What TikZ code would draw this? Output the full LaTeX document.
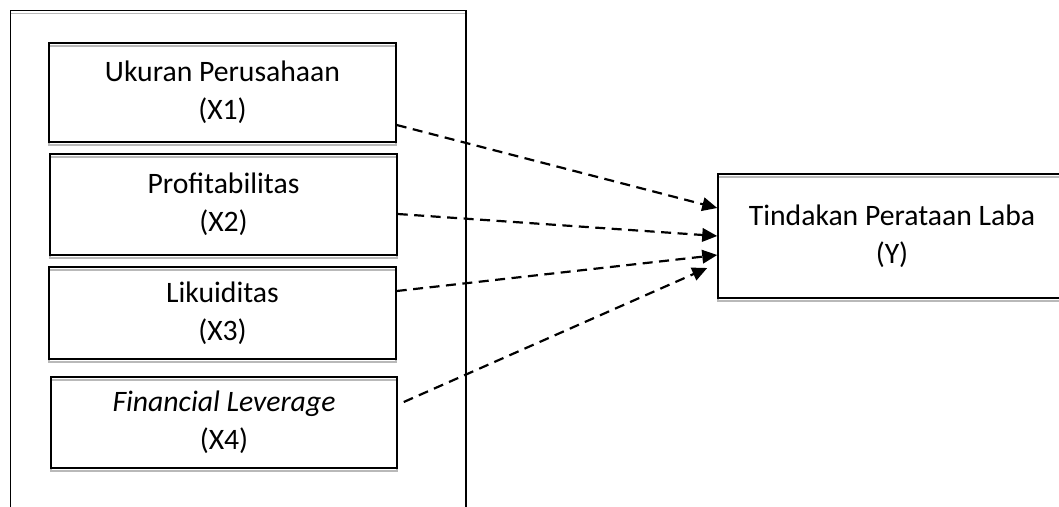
\documentclass[tikz,border=0pt]{standalone}
\usepackage{fontspec}
\setmainfont{Carlito}
\usepackage{tikz}
\usetikzlibrary{arrows.meta,calc,positioning,shadows}
\tikzset{
  varbox/.style   ={draw=black, line width=0.9pt, align=center,
                    font=\fontsize{16.9}{21.6}\selectfont,
                    execute at begin node={\rule{0pt}{17pt}},
                    drop shadow={shadow xshift=0pt, shadow yshift=-0.06cm,
                                 opacity=1, fill=none, draw=gray!55, line width=0.8pt}},
  dasharrow/.style={draw=black, line width=1.25pt, dash pattern=on 0.2cm off 0.13cm,
                    -{Triangle[length=0.3cm,width=0.27cm]}},
}
\begin{document}
\begin{tikzpicture}[
  x=0.02cm,y=-0.02cm,
  line cap=butt,
  line join=miter
]

% --- Canvas --------------------------------------------------------------
\clip (0,0) rectangle (1059,507);

% --- Frame round the independent variables -------------------------------
\draw[gray!55, line width=0.8pt] (10.5,13.7) rectangle (466,540);
\draw[line width=0.9pt] (10.5,10.7) rectangle (466,537);

% --- Independent variables -----------------------------------------------
\node[varbox, minimum width=6.94cm, minimum height=1.98cm] (b1) at (222.5,92.5)
  {Ukuran Perusahaan\\(X1)};
\node[varbox, minimum width=6.94cm, minimum height=2.02cm] (b2) at (223.5,204.5)
  {Profitabilitas\\(X2)};
\node[varbox, minimum width=6.94cm, minimum height=1.84cm] (b3) at (222.5,313)
  {Likuiditas\\(X3)};
\node[varbox, minimum width=6.92cm, minimum height=1.82cm] (b4) at (224,422.5)
  {\textit{Financial Leverage}\\(X4)};

% --- Dependent variable --------------------------------------------------
\node[varbox, minimum width=6.96cm, minimum height=2.48cm] (yb) at (892,236)
  {Tindakan Perataan Laba\\(Y)};

% --- Dashed paths ----------------------------------------------------------
\draw[dasharrow] ($(b1.east)+(0,32.5)$) -- ($(yb.west)+(0,-28)$);
\draw[dasharrow] ($(b2.east)+(0,9.5)$)  -- (yb.west);
\draw[dasharrow] ($(b3.east)+(0,-22)$)  -- ($(yb.west)+(0,19)$);
\draw[dasharrow] ($(b4.east)+(6,-20.5)$) -- ($(yb.west)+(-10,32)$);

\end{tikzpicture}
\end{document}
